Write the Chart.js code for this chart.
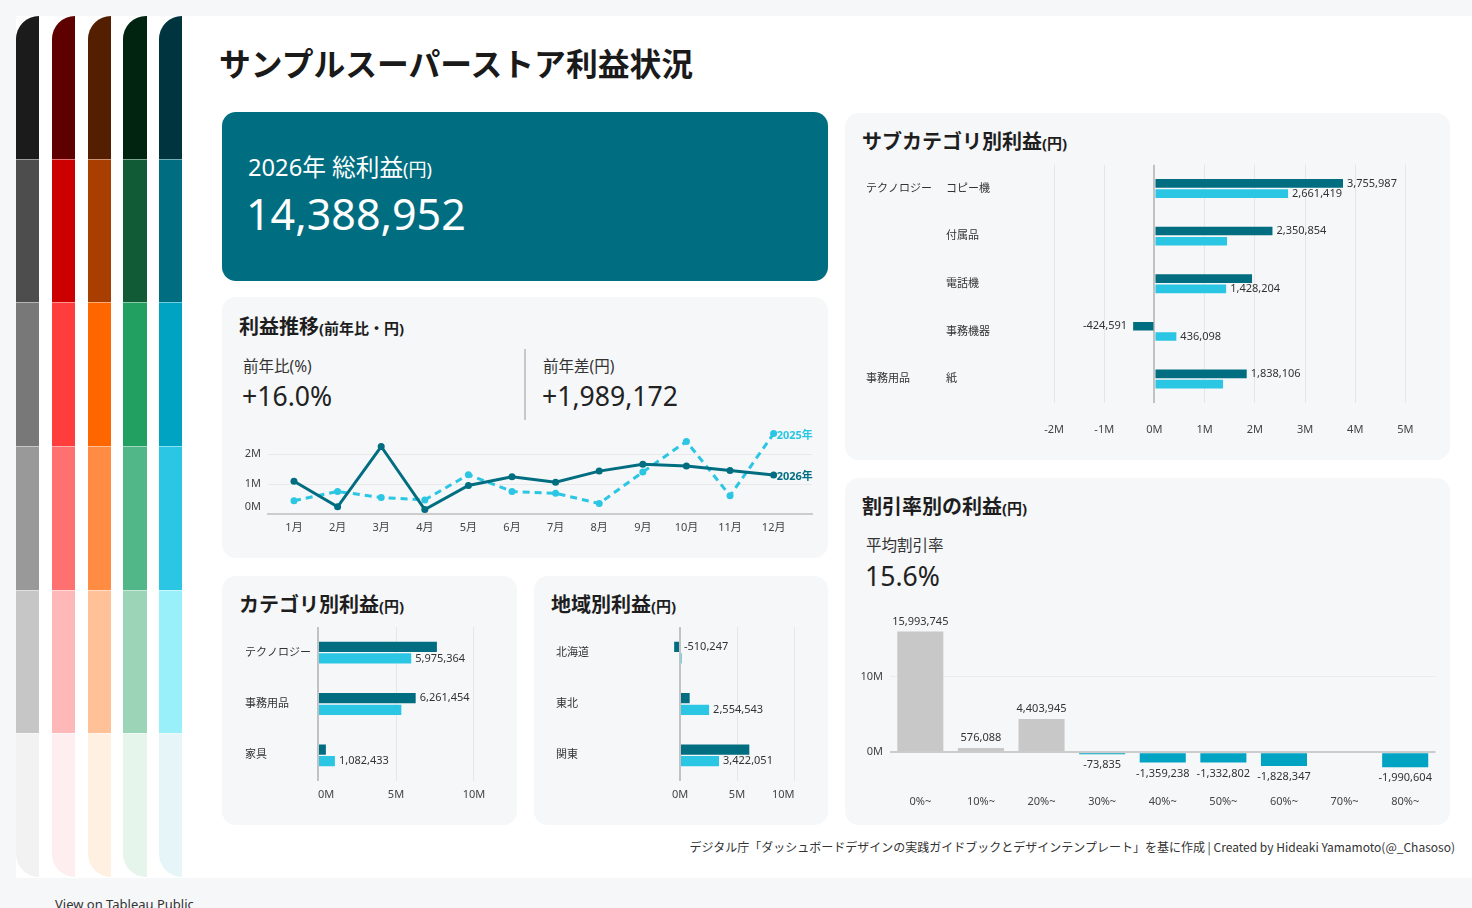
<!DOCTYPE html>
<html lang="ja">
<head>
<meta charset="utf-8">
<title>サンプルスーパーストア利益状況</title>
<script src="https://cdn.jsdelivr.net/npm/chart.js@4.4.1/dist/chart.umd.min.js"></script>
<style>
  html, body { margin:0; padding:0; }
  body { width:1472px; height:908px; position:relative; overflow:hidden; background:#f6f7f9;
         font-family:'Noto Sans','Noto Sans CJK JP',sans-serif; color:#222; }
  .abs { position:absolute; }
  #sheet { left:16px; top:16px; width:1456px; height:862px; background:#fff; }
  #strips { left:16px; top:16px; height:861px; display:flex; gap:12.5px; }
  .strip { width:23.3px; height:100%; display:flex; flex-direction:column; border-radius:23px 0 0 23px; overflow:hidden; }
  .seg { flex:1; }
  .seg + .seg { border-top:1px solid rgba(255,255,255,0.45); }
  .card { background:#f6f7f9; border-radius:14px; }
  .t { white-space:nowrap; line-height:1; }
  .ttl { font-size:20px; font-weight:700; color:#1e1e1e; }
  .ttl span { font-size:15px; }
  .lbl { font-size:15.5px; color:#333; }
  .big { font-size:26.6px; color:#222; }
  canvas { position:absolute; }
</style>
</head>
<body>
<div id="sheet" class="abs"></div>
<div id="strips" class="abs"></div>

<div class="abs t" style="left:219px;top:48px;font-size:31.8px;font-weight:700;color:#1a1a1a">サンプルスーパーストア利益状況</div>

<!-- KPI card -->
<div class="abs card" style="left:222px;top:112px;width:606px;height:169px;background:#006e80"></div>
<div class="abs t" style="left:248px;top:156px;font-size:23.7px;color:#fff">2026年 総利益<span style="font-size:18px">(円)</span></div>
<div class="abs t" style="left:246px;top:192px;font-size:43px;color:#fff">14,388,952</div>

<!-- line card -->
<div class="abs card" style="left:222px;top:297px;width:606px;height:261px"></div>
<div class="abs t ttl" style="left:239px;top:317px">利益推移<span>(前年比・円)</span></div>
<div class="abs t lbl" style="left:243px;top:359px">前年比(%)</div>
<div class="abs t big" style="left:242px;top:383px">+16.0%</div>
<div class="abs" style="left:524px;top:349px;width:2px;height:71px;background:#c8c8c8"></div>
<div class="abs t lbl" style="left:543px;top:359px">前年差(円)</div>
<div class="abs t big" style="left:542px;top:383px">+1,989,172</div>

<!-- category card -->
<div class="abs card" style="left:222px;top:576px;width:295px;height:249px"></div>
<div class="abs t ttl" style="left:239px;top:595px">カテゴリ別利益<span>(円)</span></div>

<!-- region card -->
<div class="abs card" style="left:534px;top:576px;width:294px;height:249px"></div>
<div class="abs t ttl" style="left:551px;top:595px">地域別利益<span>(円)</span></div>

<!-- subcategory card -->
<div class="abs card" style="left:845px;top:113px;width:605px;height:347px"></div>
<div class="abs t ttl" style="left:862px;top:132px">サブカテゴリ別利益<span>(円)</span></div>

<!-- discount card -->
<div class="abs card" style="left:845px;top:478px;width:605px;height:347px"></div>
<div class="abs t ttl" style="left:862px;top:497px">割引率別の利益<span>(円)</span></div>
<div class="abs t lbl" style="left:866px;top:538px">平均割引率</div>
<div class="abs t big" style="left:865px;top:563px">15.6%</div>

<div class="abs t" style="right:17px;top:841px;font-size:12px;color:#333;font-family:'Noto Sans CJK JP',sans-serif">デジタル庁「ダッシュボードデザインの実践ガイドブックとデザインテンプレート」を基に作成 | Created by Hideaki Yamamoto(@_Chasoso)</div>
<div class="abs t" style="left:55px;top:898px;font-size:13px;color:#333">View on Tableau Public</div>

<script>
// ---------------- data ----------------
const months = ['1月','2月','3月','4月','5月','6月','7月','8月','9月','10月','11月','12月'];
const profit2026 = [1090000, 240000, 2250000, 150000, 950000, 1240000, 1060000, 1430000, 1660000, 1600000, 1450000, 1300000];
const profit2025 = [440000, 750000, 550000, 470000, 1310000, 750000, 690000, 350000, 1400000, 2420000, 610000, 2680000];
const seriesNames = ['2026年', '2025年'];
const lineYTicks = [0, 1000000, 2000000];

const categories = ['テクノロジー', '事務用品', '家具'];
const catProfit2026 = [7622000, 6261454, 505000];
const catProfit2025 = [5975364, 5342000, 1082433];
const catLabel2026 = [false, true, false];
const catLabel2025 = [true, false, true];
const catXTicks = [0, 5000000, 10000000];

const regions = ['北海道', '東北', '関東'];
const regionProfit2026 = [-510247, 850000, 6080000];
const regionProfit2025 = [150000, 2554543, 3422051];
const regionLabel2026 = [true, false, false];
const regionLabel2025 = [false, true, true];
const regionXTicks = [0, 5000000, 10000000];

const subCategories = ['コピー機', '付属品', '電話機', '事務機器', '紙'];
const subParents = ['テクノロジー', '', '', '', '事務用品'];
const subProfit2026 = [3755987, 2350854, 1944000, -424591, 1838106];
const subProfit2025 = [2661419, 1446000, 1428204, 436098, 1367000];
const subLabel2026 = [true, true, false, true, true];
const subLabel2025 = [true, false, true, true, false];
const subXTicks = [-2000000, -1000000, 0, 1000000, 2000000, 3000000, 4000000, 5000000];

const discountBands = ['0%~', '10%~', '20%~', '30%~', '40%~', '50%~', '60%~', '70%~', '80%~'];
const discountProfit = [15993745, 576088, 4403945, -73835, -1359238, -1332802, -1828347, null, -1990604];
const discountYTicks = [0, 10000000];

const stripPalette = [
  ['#1b1b1b', '#4d4d4d', '#787878', '#999999', '#c6c6c6', '#f2f2f2'],
  ['#5f0000', '#cc0000', '#ff3d3d', '#ff7171', '#ffb8b8', '#ffeef0'],
  ['#531f00', '#a83f00', '#ff6600', '#ff8c42', '#ffc197', '#fff0e2'],
  ['#00240f', '#115c36', '#22a061', '#52b788', '#9bd4b6', '#e5f5eb'],
  ['#003540', '#006e80', '#00a3c2', '#2bc6e3', '#99f0fa', '#e6f6f8']
];

// ---------------- styles ----------------
const FONT = "'Noto Sans','Noto Sans CJK JP',sans-serif";
const C_DARK = '#006e80', C_LIGHT = '#2bc6e3', C_NEG = '#00a3c2', C_POS = '#c8c8c8';
const fmt = v => v.toLocaleString('en-US');
const mFmt = v => (v / 1e6) + 'M';
const setTicks = arr => s => { s.ticks = arr.map(v => ({ value: v })); };

// palette strips
const stripsEl = document.getElementById('strips');
stripPalette.forEach(col => {
  const s = document.createElement('div'); s.className = 'strip';
  col.forEach(c => { const d = document.createElement('div'); d.className = 'seg'; d.style.background = c; s.appendChild(d); });
  stripsEl.appendChild(s);
});

Chart.defaults.font.family = FONT;
Chart.defaults.font.size = 11;
Chart.defaults.color = '#444';
Chart.defaults.animation = false;
Chart.defaults.plugins.legend.display = false;
Chart.defaults.plugins.tooltip.enabled = false;

function mk(left, top, w, h) {
  const c = document.createElement('canvas');
  c.width = w; c.height = h;
  c.style.left = left + 'px'; c.style.top = top + 'px';
  c.style.width = w + 'px'; c.style.height = h + 'px';
  document.body.appendChild(c);
  return c;
}

// ---------------- plugins ----------------
// numeric tick labels kept inside the plot pane (Tableau-style)
const clampTicks = {
  id: 'clampTicks',
  afterDraw(chart, args, o) {
    const s = chart.scales[o.axis]; const ca = chart.chartArea; const ctx = chart.ctx;
    ctx.save(); ctx.font = '11px ' + FONT; ctx.fillStyle = '#444'; ctx.textBaseline = 'middle';
    s.ticks.forEach(t => {
      const txt = mFmt(t.value); const p = s.getPixelForValue(t.value);
      if (o.axis === 'x') {
        const w = ctx.measureText(txt).width;
        const x = Math.min(Math.max(p, ca.left + w / 2), ca.right - w / 2);
        ctx.textAlign = 'center'; ctx.fillText(txt, x, ca.bottom + o.gap);
      } else {
        const y = Math.min(Math.max(p, ca.top + 7.5), ca.bottom - 7.5);
        ctx.textAlign = 'right'; ctx.fillText(txt, ca.left - o.gap, y);
      }
    });
    ctx.restore();
  }
};

const endLabels = {
  id: 'endLabels',
  afterDatasetsDraw(chart) {
    const ctx = chart.ctx; ctx.save();
    ctx.font = 'bold 11px ' + FONT; ctx.textBaseline = 'middle'; ctx.textAlign = 'left';
    chart.data.datasets.forEach((ds, di) => {
      const meta = chart.getDatasetMeta(di);
      const p = meta.data[meta.data.length - 1];
      ctx.fillStyle = ds.borderColor;
      ctx.fillText(ds.label, p.x + 3, p.y + 2);
    });
    ctx.restore();
  }
};

const hbarLabels = {
  id: 'hbarLabels',
  afterDatasetsDraw(chart) {
    const {ctx, chartArea} = chart; ctx.save();
    ctx.font = '11px ' + FONT; ctx.fillStyle = '#333'; ctx.textBaseline = 'middle';
    const zero = chart.scales.x.getPixelForValue(0);
    chart.data.datasets.forEach((ds, di) => {
      const meta = chart.getDatasetMeta(di);
      meta.data.forEach((bar, i) => {
        if (!ds.showLabels || !ds.showLabels[i]) return;
        const v = ds.data[i]; const txt = fmt(v);
        const w = ctx.measureText(txt).width;
        if (v >= 0) { ctx.textAlign = 'left'; ctx.fillText(txt, bar.x + 4, bar.y); }
        else if (bar.x - 6 - w >= chartArea.left) { ctx.textAlign = 'right'; ctx.fillText(txt, bar.x - 6, bar.y); }
        else { ctx.textAlign = 'left'; ctx.fillText(txt, zero + 4, bar.y); }
      });
    });
    ctx.restore();
  }
};

const parentLabels = {
  id: 'parentLabels',
  afterDraw(chart) {
    const ctx = chart.ctx; const ys = chart.scales.y; ctx.save();
    ctx.font = '11px ' + FONT; ctx.fillStyle = '#333'; ctx.textBaseline = 'middle'; ctx.textAlign = 'left';
    subParents.forEach((p, i) => { if (p) ctx.fillText(p, ys.left - 80, ys.getPixelForValue(i)); });
    ctx.restore();
  }
};

const vbarLabels = {
  id: 'vbarLabels',
  afterDatasetsDraw(chart) {
    const ctx = chart.ctx; ctx.save();
    ctx.font = '11px ' + FONT; ctx.fillStyle = '#333'; ctx.textBaseline = 'middle'; ctx.textAlign = 'center';
    chart.data.datasets.forEach((ds, di) => {
      chart.getDatasetMeta(di).data.forEach((bar, i) => {
        const v = ds.data[i]; if (v == null) return;
        ctx.fillText(fmt(v), bar.x, v >= 0 ? bar.y - 10 : bar.y + 11);
      });
    });
    ctx.restore();
  }
};

// ---------------- line chart ----------------
new Chart(mk(230, 416, 592, 134), {
  type: 'line',
  data: {
    datasets: [
      { label: seriesNames[0], data: profit2026.map((v, i) => ({x: i + 1, y: v})),
        borderColor: C_DARK, backgroundColor: C_DARK, pointBackgroundColor: C_DARK, pointBorderWidth: 0,
        pointRadius: 3.5, borderWidth: 3, tension: 0, clip: false },
      { label: seriesNames[1], data: profit2025.map((v, i) => ({x: i + 1, y: v})),
        borderColor: C_LIGHT, backgroundColor: C_LIGHT, pointBackgroundColor: C_LIGHT, pointBorderWidth: 0,
        pointRadius: 3.5, borderWidth: 3, borderDash: [7, 5], tension: 0, clip: false }
    ]
  },
  options: {
    responsive: false,
    layout: { padding: { left: 0, right: 10, top: 14, bottom: 0 } },
    scales: {
      x: { type: 'linear', min: 0.404, max: 12.88, afterFit: s => { s.height = 36; },
           afterBuildTicks: setTicks(months.map((m, i) => i + 1)),
           grid: { display: false, drawTicks: false }, border: { display: true, color: '#cccccc', width: 2 },
           ticks: { autoSkip: false, maxRotation: 0, padding: 7.4, callback: v => months[v - 1] || '' } },
      y: { min: 0, max: 2800000, afterFit: s => { s.width = 38; }, afterBuildTicks: setTicks(lineYTicks),
           grid: { drawTicks: false, color: c => c.tick.value === 0 ? 'rgba(0,0,0,0)' : '#e9e9e9' },
           border: { display: false }, ticks: { display: false } }
    },
    plugins: { clampTicks: { axis: 'y', gap: 7 } }
  },
  plugins: [endLabels, clampTicks]
});

// ---------------- horizontal bars ----------------
function hbarChart(canvas, labels, d26, d25, s26, s25, xTicks, o, extra) {
  return new Chart(canvas, {
    type: 'bar',
    data: { labels, datasets: [
      { label: seriesNames[0], data: d26, backgroundColor: C_DARK, showLabels: s26 },
      { label: seriesNames[1], data: d25, backgroundColor: C_LIGHT, showLabels: s25 }
    ] },
    options: {
      indexAxis: 'y', responsive: false,
      datasets: { bar: { categoryPercentage: o.cat, barPercentage: o.bar, borderWidth: 0 } },
      layout: { padding: o.pad },
      scales: {
        x: { min: o.min, max: o.max, afterFit: s => { s.height = o.xh; }, afterBuildTicks: setTicks(xTicks),
             border: { display: false },
             grid: { drawTicks: false, color: c => c.tick.value === 0 ? '#c2c2c2' : '#e6e6e6',
                     lineWidth: c => c.tick.value === 0 ? 2 : 1 },
             ticks: { display: false } },
        y: { afterFit: s => { s.width = o.yw; }, grid: { display: false, drawTicks: false }, border: { display: false },
             ticks: { crossAlign: 'far', padding: 0, color: '#333', autoSkip: false } }
      },
      plugins: { clampTicks: { axis: 'x', gap: o.gap } }
    },
    plugins: [hbarLabels, clampTicks].concat(extra || [])
  });
}

hbarChart(mk(240, 613, 277, 197), categories, catProfit2026, catProfit2025, catLabel2026, catLabel2025, catXTicks,
  { cat: 0.45, bar: 0.89, pad: { left: 5, right: 19.6, top: 14, bottom: 0 }, min: 0, max: 11500000,
    xh: 29, gap: 14, yw: 73 });

hbarChart(mk(546, 613, 282, 197), regions, regionProfit2026, regionProfit2025, regionLabel2026, regionLabel2025, regionXTicks,
  { cat: 0.45, bar: 0.89, pad: { left: 10, right: 33.4, top: 14, bottom: 0 }, min: -700000, max: 10050000,
    xh: 29, gap: 14, yw: 116 });

hbarChart(mk(856, 150, 594, 295), subCategories, subProfit2026, subProfit2025, subLabel2026, subLabel2025, subXTicks,
  { cat: 0.43, bar: 0.84, pad: { left: 90, right: 29.5, top: 14.7, bottom: 0 }, min: -2300000, max: 5300000,
    xh: 42.2, gap: 27.2, yw: 93 }, [parentLabels]);

// ---------------- discount bars ----------------
new Chart(mk(850, 600, 600, 215), {
  type: 'bar',
  data: { labels: discountBands, datasets: [{
    data: discountProfit,
    backgroundColor: c => ((c.raw ?? 0) < 0 ? C_NEG : C_POS),
    categoryPercentage: 0.76, barPercentage: 1, minBarLength: 2, borderWidth: 0
  }] },
  options: {
    responsive: false,
    layout: { padding: { left: 0, right: 14.5, top: 20, bottom: 0 } },
    scales: {
      x: { grid: { display: false, drawTicks: false }, border: { display: false }, afterFit: s => { s.height = 24.9; },
           ticks: { padding: 5.3, color: '#444', maxRotation: 0, autoSkip: false } },
      y: { min: -5000000, max: 17500000, afterFit: s => { s.width = 40; }, afterBuildTicks: setTicks(discountYTicks),
           border: { display: false },
           grid: { drawTicks: false, color: c => c.tick.value === 0 ? '#cccccc' : '#ebebeb',
                   lineWidth: c => c.tick.value === 0 ? 2 : 1 },
           ticks: { display: false } }
    },
    plugins: { clampTicks: { axis: 'y', gap: 7 } }
  },
  plugins: [vbarLabels, clampTicks]
});
</script>
</body>
</html>
